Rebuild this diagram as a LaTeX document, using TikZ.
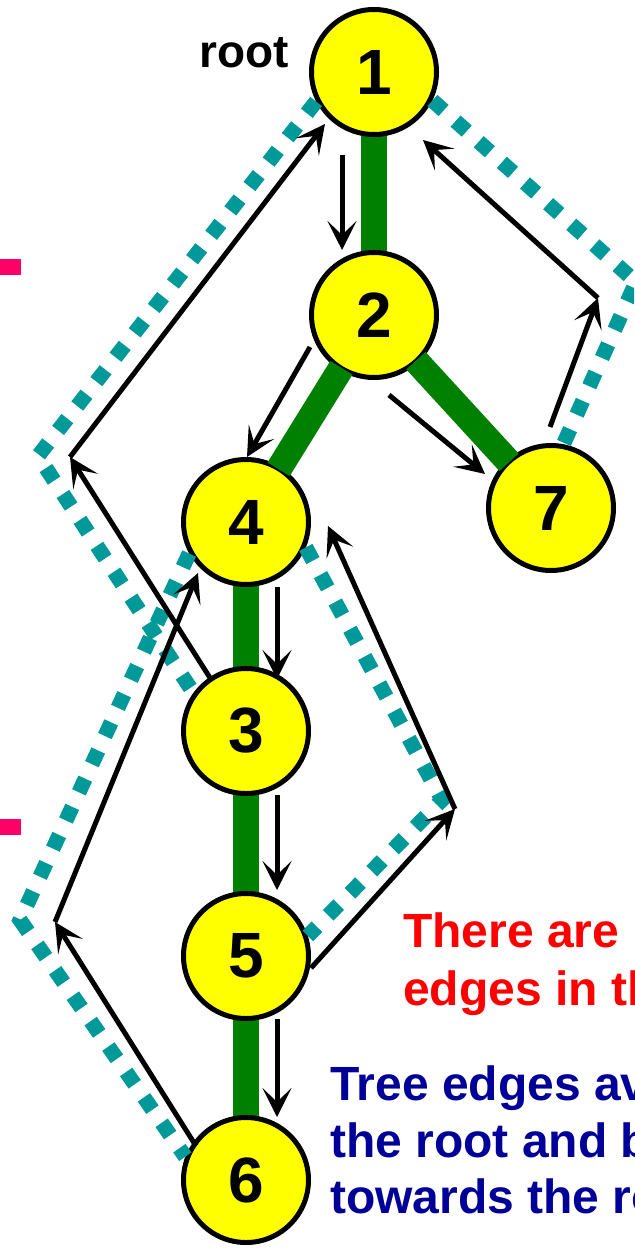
\documentclass[tikz,border=0pt]{standalone}
\usepackage{fontspec}
\setmainfont{Liberation Sans}
\usetikzlibrary{arrows.meta}
\definecolor{treegreen}{HTML}{008000}
\definecolor{tourteal}{HTML}{009999}
\definecolor{nodeyellow}{HTML}{FFFF00}
\definecolor{markpink}{HTML}{FF0066}
\definecolor{noteblue}{HTML}{000099}
\definecolor{notered}{HTML}{FF0000}
\pgfdeclarelayer{background}
\pgfsetlayers{background,main}
\begin{document}
\begin{tikzpicture}[x=1pt,y=-1pt,
  vertex/.style={circle, draw=black, line width=5pt, fill=nodeyellow,
    minimum size=125pt, inner sep=0pt,
    font=\fontsize{64}{64}\selectfont\bfseries},
  treeedge/.style={draw=treegreen, line width=26pt},
  tour/.style={draw=tourteal, line width=15pt, dash pattern=on 15pt off 16pt},
  walk/.style={draw=black, line width=5pt,
    -{Stealth[length=29pt,width=29pt,inset=14pt]}},
  label/.style={anchor=base west, inner sep=0pt,
    font=\fontsize{48}{57}\selectfont\bfseries}
]
\useasboundingbox (0,0) rectangle (634,1249);
\clip (0,0) rectangle (634,1249);

% pink marks
\fill[markpink] (0,259) rectangle (21,275);
\fill[markpink] (0,819) rectangle (21,835);

% vertices
\node[vertex] (n1) at (374,72) {1};
\node[vertex] (n2) at (374,315) {2};
\node[vertex] (n4) at (246,522) {4};
\node[vertex] (n7) at (551,508) {7};
\node[vertex] (n3) at (246,731) {3};
\node[vertex] (n5) at (246,956) {5};
\node[vertex] (n6) at (246,1180) {6};

% tree edges behind
\begin{pgfonlayer}{background}
\draw[treeedge] (n1.center) -- (n2.center);
\draw[treeedge] (n4.center) -- (n3.center);
\draw[treeedge] (n3.center) -- (n5.center);
\draw[treeedge] (n5.center) -- (n6.center);
\end{pgfonlayer}
% tree edges on top
\draw[treeedge, shorten <=-3pt, shorten >=-3pt] (n2) -- (n4);
\draw[treeedge, shorten <=-3pt, shorten >=-3pt] (n2) -- (n7);

% euler tour outline
\coordinate (tl) at (38,456);
\coordinate (tr) at (636,282);
\coordinate (ml) at (20,920);
\coordinate (mr) at (442,800);
\draw[tour] (n1.207) -- (tl) -- (n3.144);
\draw[tour] (n4.209) -- (ml) -- (n6.159);
\draw[tour] (n4.337) -- (mr) -- (n5.18);
\draw[tour] (n1.334) -- (tr) -- (n7.79);

% walk arrows
\coordinate (a1s) at (342,155);  \coordinate (a1e) at (342,250);
\coordinate (a2s) at (310,347);  \coordinate (a2e) at (247,457);
\coordinate (a3s) at (389,395);  \coordinate (a3e) at (485,474);
\coordinate (a4s) at (550,427);  \coordinate (a4c) at (598,298);  \coordinate (a4e) at (423,140);
\coordinate (a5s) at (212,681);  \coordinate (a5c) at (70,457);   \coordinate (a5e) at (325,124);
\coordinate (a6s) at (277,587);  \coordinate (a6e) at (277,679);
\coordinate (a7s) at (277,795);  \coordinate (a7e) at (277,890);
\coordinate (a8s) at (277,1019); \coordinate (a8e) at (277,1117);
\coordinate (a9s) at (311,968);  \coordinate (a9c) at (455,809);  \coordinate (a9e) at (328,526);
\coordinate (a10s) at (196,1146); \coordinate (a10c) at (55,922); \coordinate (a10e) at (198,573);

\draw[walk] (a1s) -- (a1e);
\draw[walk] (a2s) -- (a2e);
\draw[walk] (a3s) -- (a3e);
\draw[walk] (a4s) -- (a4c);
\draw[walk] (a4c) -- (a4e);
\draw[walk] (a5s) -- (a5c);
\draw[walk] (a5c) -- (a5e);
\draw[walk] (a6s) -- (a6e);
\draw[walk] (a7s) -- (a7e);
\draw[walk] (a8s) -- (a8e);
\draw[walk] (a9s) -- (a9c);
\draw[walk] (a9c) -- (a9e);
\draw[walk] (a10s) -- (a10c);
\draw[walk] (a10c) -- (a10e);

% texts
\node[anchor=base west, inner sep=0pt, font=\fontsize{46}{46}\selectfont\bfseries] (rootlbl) at (199,68) {root};
\node[label, text=notered] (r1) at (403,947) {There are};
\node[label, text=notered] (r2) at (403,1005) {edges in th};
\node[label, text=noteblue] (b1) at (330,1100) {Tree edges av};
\node[label, text=noteblue] (b2) at (330,1157) {the root and b};
\node[label, text=noteblue] (b3) at (330,1213) {towards the ro};
\end{tikzpicture}
\end{document}
